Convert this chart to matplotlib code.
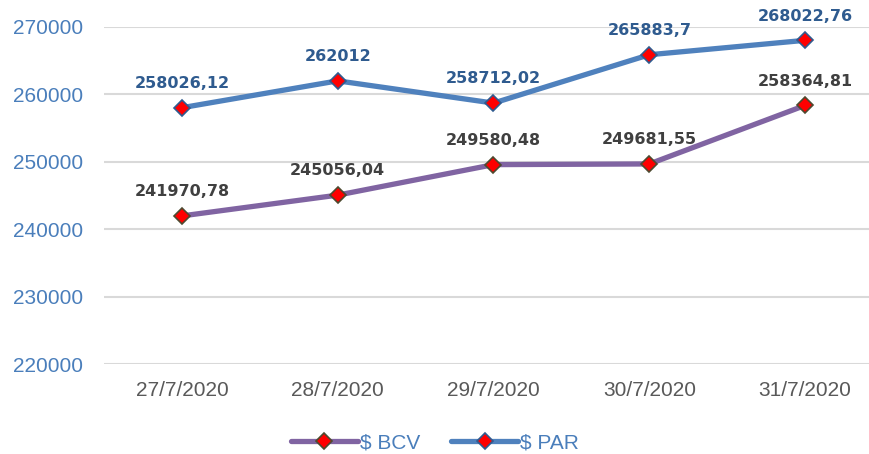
import matplotlib
matplotlib.use("Agg")
import matplotlib.pyplot as plt

dates = ["27/7/2020", "28/7/2020", "29/7/2020", "30/7/2020", "31/7/2020"]
bcv = [241970.78, 245056.04, 249580.48, 249681.55, 258364.81]
par = [258026.12, 262012, 258712.02, 265883.7, 268022.76]
bcv_labels = ["241970,78", "245056,04", "249580,48", "249681,55", "258364,81"]
par_labels = ["258026,12", "262012", "258712,02", "265883,7", "268022,76"]

plt.rcParams['font.family'] = ['Liberation Sans', 'DejaVu Sans']

fig = plt.figure(figsize=(8.7, 4.54), dpi=100)
# plot area in pixels: left 104, right ~883 (cut off), top 27 (270000), bottom 364 (220000)
ax = fig.add_axes([104 / 870, 1 - 364 / 454, 779 / 870, 337 / 454])

x = list(range(len(dates)))
ax.plot(x, bcv, color='#8064a2', lw=3.8, marker='D', markersize=8,
        markerfacecolor='#ff0000', markeredgecolor='#4d4a30', markeredgewidth=1.2,
        label='$ BCV', solid_capstyle='round', zorder=3)
ax.plot(x, par, color='#4f81bd', lw=3.8, marker='D', markersize=8,
        markerfacecolor='#ff0000', markeredgecolor='#2f5b8f', markeredgewidth=1.2,
        label='$ PAR', solid_capstyle='round', zorder=3)

for i in x:
    ax.annotate(bcv_labels[i], (i, bcv[i]), xytext=(0, 12), textcoords='offset points',
                ha='center', va='bottom', fontsize=11.5, fontweight='heavy',
                family='DejaVu Sans', color='#404040')
    ax.annotate(par_labels[i], (i, par[i]), xytext=(0, 12), textcoords='offset points',
                ha='center', va='bottom', fontsize=11.5, fontweight='heavy',
                family='DejaVu Sans', color='#2f5b8f')

ax.set_xlim(-0.5, 4.5)
ax.set_ylim(220000, 270000)
ax.set_yticks(range(220000, 270001, 10000))
ax.set_xticks(x)
ax.set_xticklabels(dates)
ax.grid(axis='y', color='#d9d9d9', lw=1.5)
ax.set_axisbelow(True)
for s in ax.spines.values():
    s.set_visible(False)
ax.tick_params(axis='both', length=0)
ax.tick_params(axis='y', labelsize=15, labelcolor='#4a7ebb', pad=15)
ax.tick_params(axis='x', labelsize=15, labelcolor='#595959', pad=12)

leg = fig.legend(loc='center', bbox_to_anchor=(0.5, 1 - 443 / 454), ncol=2,
                 frameon=False, fontsize=15, handlelength=3.2, columnspacing=1.5,
                 handletextpad=0.1)
for t in leg.get_texts():
    t.set_color('#4a7ebb')

fig.savefig("out.png", dpi=100)
